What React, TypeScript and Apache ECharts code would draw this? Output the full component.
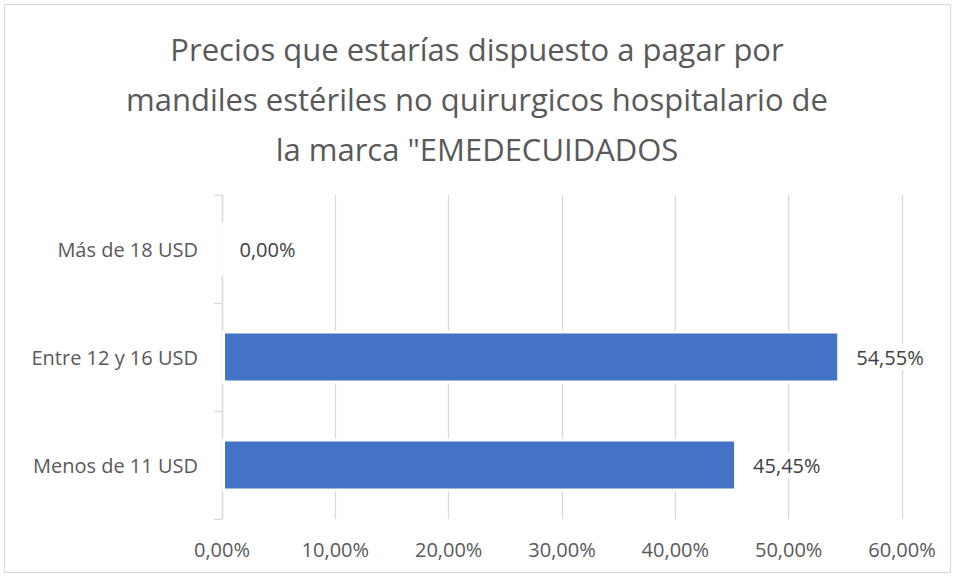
import React, { useEffect, useRef } from "react";
import * as echarts from "echarts";

const titleText = 'Precios que estarías dispuesto a pagar por\nmandiles estériles no quirurgicos hospitalario de\nla marca "EMEDECUIDADOS';
const categories = ["Menos de 11 USD", "Entre 12 y 16 USD", "Más de 18 USD"];
const values = [45.45, 54.55, 0];
const axisMin = 0;
const axisMax = 60;
const axisStep = 10;

const fmt = (v: number) => v.toFixed(2).replace(".", ",") + "%";

export default function App() {
  const ref = useRef<HTMLDivElement>(null);
  useEffect(() => {
    document.body.style.margin = "0";
    const chart = echarts.init(ref.current!, null, { renderer: "svg" });
    const font = "'Open Sans', sans-serif";
    chart.setOption({
      animation: false,
      backgroundColor: "#ffffff",
      textStyle: { fontFamily: font },
      graphic: [
        {
          type: "rect",
          shape: { x: 4.5, y: 4.5, width: 946, height: 568 },
          style: { fill: "none", stroke: "#d9d9d9", lineWidth: 1 },
          silent: true,
        },
        {
          type: "text",
          x: 477,
          y: 99,
          silent: true,
          style: {
            text: titleText,
            font: "31px 'Open Sans', sans-serif",
            fill: "#595959",
            textAlign: "center",
            textVerticalAlign: "middle",
            lineHeight: 50,
          },
        },
      ],
      grid: { left: 222, right: 53, top: 195, bottom: 58, containLabel: false },
      xAxis: {
        type: "value",
        min: axisMin,
        max: axisMax,
        interval: axisStep,
        axisLine: { show: false },
        axisTick: { show: false },
        splitLine: { show: true, lineStyle: { color: "#d9d9d9", width: 1.3 } },
        axisLabel: {
          formatter: (v: number) => fmt(v),
          color: "#595959",
          fontSize: 20,
          fontFamily: font,
          margin: 20,
        },
      },
      yAxis: {
        type: "category",
        data: categories,
        axisLine: { show: true, lineStyle: { color: "#d9d9d9", width: 1.3 } },
        axisTick: { show: true, length: 8, lineStyle: { color: "#d9d9d9", width: 1.3 } },
        axisLabel: {
          color: "#595959",
          fontSize: 20,
          fontFamily: font,
          margin: 24,
        },
      },
      series: [
        {
          type: "bar",
          data: values,
          barWidth: 53,
          itemStyle: { color: "#4472c4", borderColor: "#ffffff", borderWidth: 3 },
          label: {
            show: true,
            position: "right",
            distance: 12,
            formatter: (p: any) => fmt(p.value),
            color: "#404040",
            fontSize: 20,
            fontFamily: font,
            backgroundColor: "#ffffff",
            padding: [3, 4],
          },
        },
      ],
    });
    return () => chart.dispose();
  }, []);
  return <div ref={ref} style={{ width: 955, height: 577 }} />;
}
